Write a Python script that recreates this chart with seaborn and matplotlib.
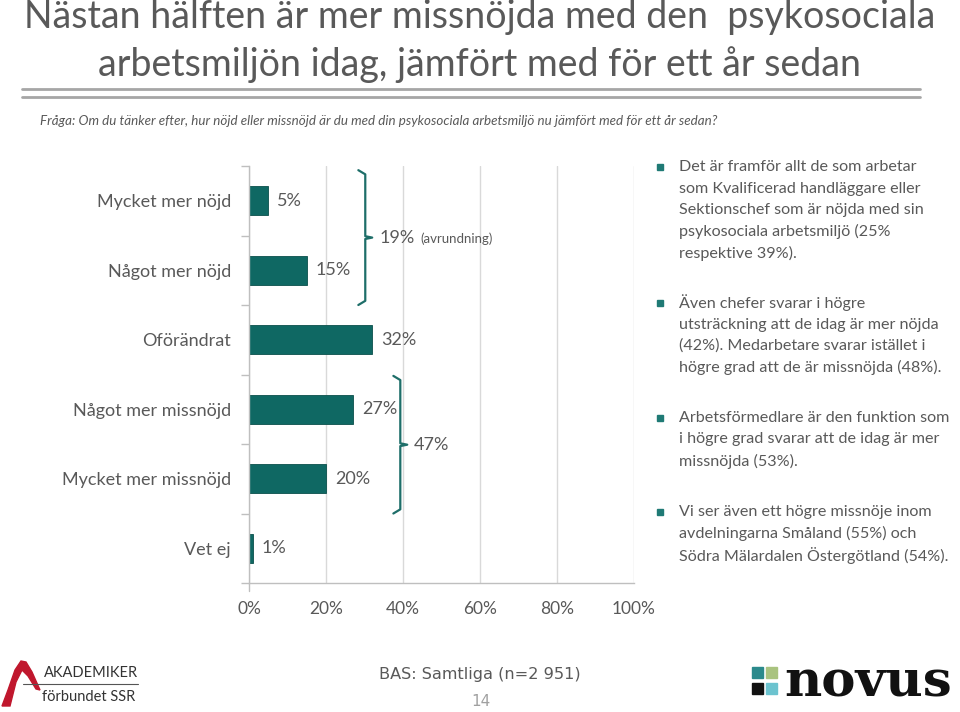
import matplotlib
matplotlib.use("Agg")
import matplotlib.pyplot as plt
import seaborn as sns
import pandas as pd
from matplotlib.patches import Rectangle, Polygon
from matplotlib.lines import Line2D

# ---- data ----
categories = ["Mycket mer nöjd", "Något mer nöjd", "Oförändrat",
              "Något mer missnöjd", "Mycket mer missnöjd", "Vet ej"]
values = [5, 15, 32, 27, 20, 1]
value_labels = ["5%", "15%", "32%", "27%", "20%", "1%"]
group_labels = ["19%", "47%"]
xticks = [0, 20, 40, 60, 80, 100]
xtick_labels = ["0%", "20%", "40%", "60%", "80%", "100%"]

title_lines = ["Nästan hälften är mer missnöjda med den  psykosociala",
               "arbetsmiljön idag, jämfört med för ett år sedan"]
question = ("Fråga: Om du tänker efter, hur nöjd eller missnöjd är du med din "
            "psykosociala arbetsmiljö nu jämfört med för ett år sedan?")
bullets = [
    ["Det är framför allt de som arbetar", "som Kvalificerad handläggare eller",
     "Sektionschef som är nöjda med sin", "psykosociala arbetsmiljö (25%",
     "respektive 39%)."],
    ["Även chefer svarar i högre", "utsträckning att de idag är mer nöjda",
     "(42%). Medarbetare svarar istället i", "högre grad att de är missnöjda (48%)."],
    ["Arbetsförmedlare är den funktion som", "i högre grad svarar att de idag är mer",
     "missnöjda (53%)."],
    ["Vi ser även ett högre missnöje inom", "avdelningarna Småland (55%) och",
     "Södra Mälardalen Östergötland (54%)."],
]
base_text = "BAS: Samtliga (n=2 951)"
page_no = "14"

df = pd.DataFrame({"kategori": categories, "andel": values})

sns.set_theme(style="white")
plt.rcParams["font.family"] = ["Lato", "DejaVu Sans"]

GREY = "#595959"
TEAL = "#0f6863"

W, H = 960, 712
fig = plt.figure(figsize=(W / 100, H / 100), dpi=100)
fig.patch.set_facecolor("white")

def fx(px):
    return px / W

def fy(py):
    return 1 - py / H

ax = fig.add_axes([fx(249), fy(583), fx(634) - fx(249), fy(166) - fy(583)])
sns.barplot(data=df, y="kategori", x="andel", orient="h", color=TEAL,
            width=0.42, saturation=1, ax=ax, edgecolor="#0a4f4b", linewidth=0.6)
ax.set_xlim(0, 100)
ax.set_ylim(5.5, -0.5)
ax.set_xlabel("")
ax.set_ylabel("")
ax.set_xticks(xticks)
ax.set_xticklabels(xtick_labels, fontsize=12.5, color=GREY)
ax.set_yticks(range(len(categories)))
ax.set_yticklabels(categories, fontsize=13, color=GREY)
ax.tick_params(axis="y", length=0, pad=13)
ax.tick_params(axis="x", length=0, pad=13)
ax.set_yticks([i + 0.5 for i in range(-1, len(categories))], minor=True)
ax.tick_params(axis="y", which="minor", length=6, color="#bfbfbf", width=1, left=True)
ax.xaxis.grid(True, color="#d9d9d9", linewidth=1)
ax.set_axisbelow(True)
for s in ["top", "right"]:
    ax.spines[s].set_visible(False)
for s in ["left", "bottom"]:
    ax.spines[s].set_color("#bfbfbf")
    ax.spines[s].set_linewidth(1)
ax.plot([0, 0], [5.5, 5.62], color="#bfbfbf", lw=1, clip_on=False)

# value labels
for i, (v, lab) in enumerate(zip(values, value_labels)):
    ax.annotate(lab, (v, i), xytext=(6.5, 0), textcoords="offset points",
                va="center", ha="left", fontsize=13, color=GREY)

# brackets
def bracket(x, y0, y1, hook=1.8, dy=0.06, tick=1.8):
    ym = (y0 + y1) / 2
    xs = [x - hook, x, x, x + tick, x, x, x - hook]
    ys = [y0, y0 + dy, ym - 0.02, ym, ym + 0.02, y1 - dy, y1]
    ax.add_line(Line2D(xs, ys, color="#1e6e69", lw=1.6, clip_on=False,
                       solid_joinstyle="round"))
    return ym

ym1 = bracket(30.2, -0.44, 1.5)
ax.annotate(group_labels[0], (30.2 + 1.8, ym1), xytext=(5, 0),
            textcoords="offset points", va="center", ha="left", fontsize=13, color=GREY)
ax.text(44.6, ym1 + 0.02, "(avrundning)", va="center", ha="left", fontsize=9.5, color=GREY)
ym2 = bracket(39.3, 2.52, 4.5)
ax.annotate(group_labels[1], (39.3 + 1.8, ym2), xytext=(5, 0),
            textcoords="offset points", va="center", ha="left", fontsize=13, color=GREY)

# title
fig.text(0.5, fy(17), title_lines[0], ha="center", va="center", fontsize=27, color=GREY)
fig.text(0.5, fy(65), title_lines[1], ha="center", va="center", fontsize=27, color=GREY)
fig.add_artist(Line2D([fx(22), fx(920)], [fy(89), fy(89)], color="#a6a6a6", lw=2))
fig.add_artist(Line2D([fx(22), fx(920)], [fy(97), fy(97)], color="#a6a6a6", lw=2))
fig.text(fx(40), fy(121), question, ha="left", va="center", fontsize=9.65,
         style="italic", color=GREY)

# bullets
starts = [167, 303, 418, 512]
for lines, y0 in zip(bullets, starts):
    fig.add_artist(Rectangle((fx(657), fy(y0 - 1) - 3.5 / H), 6 / W, 6 / H,
                             color="#1f7a75", transform=fig.transFigure))
    for k, ln in enumerate(lines):
        fig.text(fx(679), fy(y0 + k * 21.5), ln, ha="left", va="center",
                 fontsize=11.6, color=GREY)

# footer
fig.text(0.5, fy(675), base_text, ha="center", va="center", fontsize=11.6,
         color=GREY, family="DejaVu Sans")
fig.text(fx(481), fy(701), page_no, ha="center", va="center", fontsize=11,
         color="#a0a0a0", family="DejaVu Sans")

# Akademiker logo
fig.add_artist(Polygon([(fx(2), fy(706)), (fx(8), fy(690)), (fx(15), fy(670)),
                        (fx(21), fy(661)), (fx(26), fy(662)), (fx(32), fy(672)),
                        (fx(40), fy(690)), (fx(36), fy(689)), (fx(28), fy(676)),
                        (fx(22), fy(670)), (fx(16), fy(682)), (fx(10), fy(706))],
                       closed=True, color="#c0172d", transform=fig.transFigure))
fig.text(fx(44), fy(673), "AKADEMIKER", ha="left", va="center", fontsize=10.5,
         color="#333333")
fig.add_artist(Line2D([fx(23), fx(138)], [fy(684), fy(684)], color="#555555", lw=0.8))
fig.text(fx(42), fy(697), "förbundet SSR", ha="left", va="center", fontsize=10.5,
         color="#333333")

# Novus logo
sq = [(752, 667, "#2b8a8c"), (766, 667, "#a9c37f"), (752, 683, "#111111"), (766, 683, "#6cc3cf")]
for x0, y0, c in sq:
    fig.add_artist(Rectangle((fx(x0), fy(y0 + 11)), 11 / W, 11 / H, color=c,
                             transform=fig.transFigure))
fig.text(fx(784), fy(683), "novus", ha="left", va="center", fontsize=37,
         color="#111111", family="DejaVu Serif", weight="bold")

fig.savefig("out.png", dpi=100, facecolor="white")
